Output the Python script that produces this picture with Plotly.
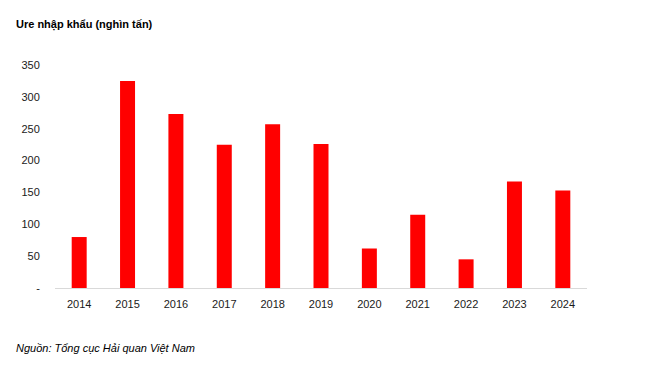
import plotly.graph_objects as go

years = ["2014", "2015", "2016", "2017", "2018", "2019", "2020", "2021", "2022", "2023", "2024"]
imports = [80, 325, 273, 225, 257, 226, 62, 115, 45, 167, 153]
ytick_vals = [0, 50, 100, 150, 200, 250, 300, 350]
ytick_text = ["-", "50", "100", "150", "200", "250", "300", "350"]

FONT = "Liberation Sans Narrow, Arial Narrow, Liberation Sans, Arial, sans-serif"

fig = go.Figure(go.Bar(x=years, y=imports, marker=dict(color="#FF0000", line=dict(width=0)),
                       width=0.31))

W, H = 650, 357
L, T, B = 47, 57, 77
R = W - (L + 532)
fig.update_layout(
    width=W, height=H,
    margin=dict(l=L, r=R, t=T, b=B),
    paper_bgcolor="white", plot_bgcolor="white",
    showlegend=False,
    font=dict(family=FONT, size=11, color="#1a1a1a"),
    annotations=[
        dict(text="<b>Ure nhập khẩu (nghìn tấn)</b>", xref="paper", yref="paper",
             x=-41/532, y=1 + 40/223, xanchor="left", yanchor="middle", showarrow=False,
             font=dict(family=FONT, size=11, color="#000000")),
        dict(text="<i>Nguồn: Tổng cục Hải quan Việt Nam</i>", xref="paper", yref="paper",
             x=-41/532, y=-60/223, xanchor="left", yanchor="middle", showarrow=False,
             font=dict(family=FONT, size=11, color="#000000")),
    ],
)
fig.update_xaxes(showgrid=False, showline=True, linecolor="#d9d9d9", linewidth=1,
                 ticks="outside", tickcolor="white", ticklen=6,
                 tickfont=dict(family=FONT, size=11, color="#1a1a1a"))
fig.update_yaxes(range=[0, 350], showgrid=False, zeroline=False, showline=False,
                 tickmode="array", tickvals=ytick_vals, ticktext=ytick_text,
                 ticks="outside", tickcolor="white", ticklen=12,
                 tickfont=dict(family=FONT, size=11, color="#1a1a1a"))

fig.write_html("out.html")
